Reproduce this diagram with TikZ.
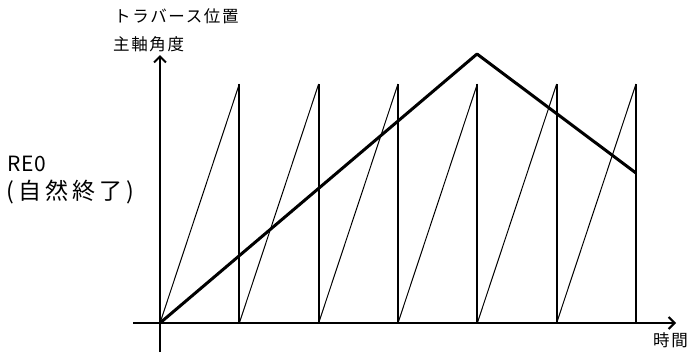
\documentclass[tikz,border=0pt]{standalone}
\usepackage{fontspec}
\setmainfont{Noto Sans CJK JP}
\usetikzlibrary{arrows.meta,positioning,calc}

\begin{document}
\begin{tikzpicture}[x=1pt,y=-1pt,
	small label/.style={anchor=west,inner sep=0pt,font=\fontsize{16.5}{18}\selectfont\addfontfeature{LetterSpace=10}},
	big label/.style={anchor=west,inner sep=0pt,font=\fontsize{23}{26}\selectfont\addfontfeature{LetterSpace=18}}]
	\useasboundingbox (0,0) rectangle (688,354);
	% axes
	\coordinate (O) at (160,323);
	\coordinate (Xl) at (133,323);
	\coordinate (Xr) at (676,323);
	\coordinate (Yb) at (160,352);
	\coordinate (Yt) at (160,55);
	
	\draw[line width=2pt,-{Straight Barb[length=6pt,width=12pt]}] (Xl)--(Xr);
	\draw[line width=2pt,-{Straight Barb[length=6pt,width=12pt]}] (Yb)--(Yt);
	
	% spindle angle (sawtooth)
	\foreach \i in {0,...,5}{
		\coordinate (S\i) at ({160+79.33*\i},323);
		\coordinate (T\i) at ({160+79.33*(\i+1)},84);
		\coordinate (B\i) at ({160+79.33*(\i+1)},323);
		\draw[line width=1pt] (S\i)--(T\i);
		\draw[line width=2pt] (T\i)--(B\i);
	}
	
	% traverse position
	\coordinate (P) at (477,54);
	\coordinate (E) at (636,173);
	\draw[line width=3pt,line join=round] (O)--(P)--(E);
	
	\node[small label] (trav) at (114,16) {トラバース位置};
	\node[small label] (ang) at (113,44) {主軸角度};
	\node[small label] (time) at (653,340) {時間};
	\node[big label,font=\fontsize{21}{24}\selectfont\addfontfeature{LetterSpace=4}] (re) at (7,164) {RE0};
	\node[big label] (end) at (6,192) {(自然終了)};
\end{tikzpicture}
\end{document}
